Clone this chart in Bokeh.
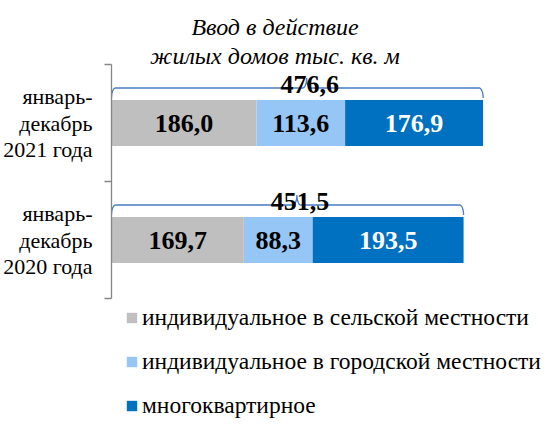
import math
from bokeh.plotting import figure
from bokeh.models import Range1d, LinearAxis, FixedTicker, Legend, LegendItem, Label
from bokeh.core.properties import value
from bokeh.embed import file_html
from bokeh.resources import INLINE

# ---------------- data ----------------
categories = ["январь-\nдекабрь\n2021 года", "январь-\nдекабрь\n2020 года"]
series_names = ["индивидуальное в сельской местности",
                "индивидуальное в городской местности",
                "многоквартирное"]
rural = [186.0, 169.7]
urban = [113.6, 88.3]
multi = [176.9, 193.5]
totals = [476.6, 451.5]
title_lines = ["Ввод в действие", "жилых домов тыс. кв. м"]

# ---------------- style / layout ----------------
colors = ["#BFBFBF", "#95C6F5", "#0070C0"]
label_colors = ["black", "black", "white"]
brace_color = "#4A7BC4"
axis_color = "#868686"
FONT = "'Liberation Serif', serif"

W, H = 543, 419
FRAME_LEFT = 107
X_END = 554.0
Y_START, Y_END = -1.034, 2.547
PXX = (W - FRAME_LEFT) / X_END          # px per x unit
PXY = H / (Y_END - Y_START)             # px per y unit
BAR_H = 0.393

def fmt(v):
    return f"{v:.1f}".replace(".", ",")

n = len(categories)
ys = [n - i - 0.5 for i in range(n)]

p = figure(width=W, height=H, x_range=Range1d(0, X_END), y_range=Range1d(Y_START, Y_END),
           output_backend="svg", toolbar_location=None,
           x_axis_location=None, y_axis_location=None,
           min_border_left=FRAME_LEFT, min_border_right=0, min_border_top=0, min_border_bottom=0,
           outline_line_color=None, background_fill_color="white", border_fill_color="white")
p.grid.visible = False

# category axis (line limited to the bar area, ticks at category boundaries)
yaxis = LinearAxis(ticker=FixedTicker(ticks=ys, minor_ticks=list(range(n + 1))),
                   bounds=(0, n),
                   major_label_overrides={y: c for y, c in zip(ys, categories)})
yaxis.axis_line_color = axis_color
yaxis.axis_line_width = 1.3
yaxis.major_tick_out = 0
yaxis.major_tick_in = 0
yaxis.minor_tick_out = 7
yaxis.minor_tick_in = 0
yaxis.minor_tick_line_color = axis_color
yaxis.minor_tick_line_width = 1.3
yaxis.major_label_text_font = FONT
yaxis.major_label_text_font_size = "22px"
yaxis.major_label_text_color = "black"
yaxis.major_label_text_line_height = 1.05
yaxis.major_label_text_align = "center"
yaxis.major_label_standoff = 12
p.add_layout(yaxis, "left")

# stacked bars
series = [rural, urban, multi]
lefts = [0.0] * n
renderers = []
for s_vals, col, lcol in zip(series, colors, label_colors):
    rights = [l + v for l, v in zip(lefts, s_vals)]
    r = p.hbar(y=ys, left=lefts, right=rights, height=BAR_H, fill_color=col, line_color=None)
    renderers.append(r)
    p.text(x=[(l + rr) / 2 for l, rr in zip(lefts, rights)], y=ys, text=[fmt(v) for v in s_vals],
           text_align="center", text_baseline="middle", text_color=lcol,
           text_font=value(FONT), text_font_style="bold", text_font_size="26px")
    lefts = rights

# curly brackets + totals
HOOK = 10 / PXY
TIP = 10 / PXY
RX = 4 / PXX
LINE_OFF = 35 / PXY

def arc(cx, cy, rx, ry, a0, a1, k=8):
    return ([cx + rx * math.cos(a0 + (a1 - a0) * t / k) for t in range(k + 1)],
            [cy + ry * math.sin(a0 + (a1 - a0) * t / k) for t in range(k + 1)])

for y, tot in zip(ys, totals):
    ly = y + LINE_OFF
    peak = tot / 2 + 12
    xs, yy = [], []
    for (cx, cy, a0, a1) in [(RX, ly - HOOK, math.pi, math.pi / 2),
                             (peak - RX, ly + TIP, -math.pi / 2, 0),
                             (peak + RX, ly + TIP, math.pi, 1.5 * math.pi),
                             (tot - RX, ly - HOOK, math.pi / 2, 0)]:
        ax, ay = arc(cx, cy, RX, HOOK if cy < ly else TIP, a0, a1)
        xs += ax
        yy += ay
    p.line(xs, yy, line_color=brace_color, line_width=1.3)
    p.text(x=[tot / 2 + 16], y=[ly], text=[fmt(tot)], text_align="center",
           text_baseline="alphabetic", y_offset=-4, text_color="black",
           text_font=value(FONT), text_font_style="bold", text_font_size="26px")

# title
TITLE_X = (280 - 8 - FRAME_LEFT) / PXX
for i, t in enumerate(title_lines):
    base_px = 34 + 29 * i - 8
    p.add_layout(Label(x=TITLE_X, y=Y_END - base_px / PXY, text=t, text_align="center",
                       text_baseline="alphabetic", text_font=FONT, text_font_style="italic",
                       text_font_size="24px", text_color="black"))

legend = Legend(items=[LegendItem(label=nm, renderers=[r]) for nm, r in zip(series_names, renderers)],
                location=(14, 0), orientation="vertical")
legend.label_text_font = FONT
legend.label_text_font_size = "23.5px"
legend.label_text_color = "black"
legend.glyph_width = 13
legend.glyph_height = 13
legend.label_height = 28
legend.label_standoff = 4
legend.spacing = 16
legend.padding = 0
legend.margin = 0
legend.border_line_color = None
legend.background_fill_alpha = 0
p.add_layout(legend)

open("out.html", "w").write(file_html(p, INLINE))
